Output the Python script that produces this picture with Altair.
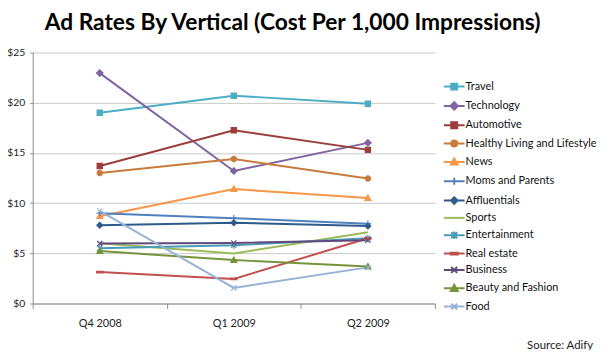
import altair as alt
import pandas as pd

quarters = ["Q4 2008", "Q1 2009", "Q2 2009"]
series = ["Travel", "Technology", "Automotive", "Healthy Living and Lifestyle", "News",
          "Moms and Parents", "Affluentials", "Sports", "Entertainment", "Real estate",
          "Business", "Beauty and Fashion", "Food"]
travel = [19.0, 20.7, 19.9]
technology = [22.95, 13.2, 16.0]
automotive = [13.7, 17.25, 15.3]
healthy = [13.0, 14.4, 12.45]
news = [8.7, 11.4, 10.5]
moms = [9.0, 8.5, 7.95]
affluentials = [7.8, 8.05, 7.72]
sports = [6.0, 4.98, 7.1]
entertainment = [5.5, 5.8, 6.5]
real_estate = [3.13, 2.45, 6.5]
business = [5.97, 6.03, 6.3]
beauty = [5.22, 4.33, 3.68]
food = [9.22, 1.56, 3.6]
values = [travel, technology, automotive, healthy, news, moms, affluentials, sports,
          entertainment, real_estate, business, beauty, food]

title_text = "Ad Rates By Vertical (Cost Per 1,000 Impressions)"
source_text = "Source: Adify"

colors = ["#4BACC6", "#8064A2", "#9B3D3A", "#C97B3B", "#F79646", "#4F81BD", "#2F5B8C",
          "#9BBB59", "#4A9BB5", "#C0504D", "#604A7B", "#77933C", "#95B3D7"]
shapes = [
    "M-1,-1H1V1H-1Z",
    "M0,-1.25L1.25,0L0,1.25L-1.25,0Z",
    "M-1,-1H1V1H-1Z",
    "M1,0A1,1,0,1,1,-1,0A1,1,0,1,1,1,0Z",
    "M0,-1.15L1.15,0.9H-1.15Z",
    "M-1.2,0H1.2M0,-1.2V1.2",
    "M0,-1.1L1.1,0L0,1.1L-1.1,0Z",
    "M0,0",
    "M-1,-1L1,1M-1,1L1,-1M0,-1.3V1.3",
    "M-1.2,-0.3H1.2V0.3H-1.2Z",
    "M-1,-1L1,1M-1,1L1,-1",
    "M0,-1.15L1.15,0.9H-1.15Z",
    "M-1,-1L1,1M-1,1L1,-1",
]
legend_shapes = [s + "M-3.5,0H3.5" for s in shapes]

rows = []
for s, vals in zip(series, values):
    for qi, (q, v) in enumerate(zip(quarters, vals)):
        rows.append({"series": s, "quarter": q, "qi": qi, "value": v})
df = pd.DataFrame(rows)

font = "Lato"
xenc = alt.X("quarter:N", sort=quarters, title=None,
             scale=alt.Scale(type="band", paddingInner=0, paddingOuter=0),
             axis=alt.Axis(tickBand="extent", labelAngle=0, tickSize=5, labelPadding=9,
                           domainColor="#8C8C8C", tickColor="#8C8C8C", labelFontSize=11,
                           labelColor="#222222", labelFont=font))
yenc = alt.Y("value:Q", title=None,
             scale=alt.Scale(domain=[0, 25], nice=False),
             axis=alt.Axis(values=[0, 5, 10, 15, 20, 25], format="$d", grid=True,
                           gridColor="#C8C8C8", domainColor="#8C8C8C", tickColor="#8C8C8C",
                           tickSize=3, labelPadding=5, labelFontSize=10.5,
                           labelColor="#222222", labelFont=font))

color_scale = alt.Scale(domain=series, range=colors)
shape_scale = alt.Scale(domain=series, range=shapes)
legend_shape_scale = alt.Scale(domain=series, range=legend_shapes)

legend = alt.Legend(
    title=None, orient="none", legendX=421, legendY=29, padding=0,
    symbolSize=36, symbolStrokeWidth=2, labelOffset=6, labelFontSize=11, labelFont=font,
    labelColor="#111111", rowPadding=3.55, labelLimit=300, symbolOpacity=1,
)

lines = alt.Chart(df).mark_line(strokeWidth=2).encode(
    x=xenc, y=yenc,
    color=alt.Color("series:N", scale=color_scale, sort=series, legend=None),
    order=alt.Order("qi:Q"),
)
points = alt.Chart(df).mark_point(filled=True, size=28, strokeWidth=1.2, opacity=1).encode(
    x=xenc, y=yenc,
    color=alt.Color("series:N", scale=color_scale, sort=series, legend=None),
    shape=alt.Shape("series:N", scale=shape_scale, sort=series, legend=None),
    stroke=alt.Stroke("series:N", scale=color_scale, sort=series, legend=None),
)
legend_layer = alt.Chart(df).transform_filter("false").mark_point(
    filled=True, opacity=1, strokeWidth=2
).encode(
    x=xenc, y=yenc,
    color=alt.Color("series:N", scale=color_scale, sort=series, legend=legend),
    shape=alt.Shape("series:N", scale=legend_shape_scale, sort=series, legend=legend),
    stroke=alt.Stroke("series:N", scale=color_scale, sort=series, legend=legend),
)
source = alt.Chart(alt.Data(values=[{"t": source_text}])).mark_text(
    align="right", baseline="middle", fontSize=11.5, font=font, color="#222222"
).encode(text="t:N", x=alt.value(567), y=alt.value(297))
title = alt.Chart(alt.Data(values=[{"t": title_text}])).mark_text(
    align="center", baseline="alphabetic", fontSize=23, font=font, fontWeight="bold",
    color="#000000"
).encode(text="t:N", x=alt.value(263), y=alt.value(-23))

chart = alt.layer(lines, points, legend_layer, source, title).resolve_scale(
    color="independent", shape="independent", stroke="independent"
).properties(
    width=407, height=254,
    autosize=alt.AutoSizeParams(type="none"),
    padding={"left": 25, "top": 43, "right": 166, "bottom": 45},
).configure_view(strokeWidth=0)

chart.save("out.html", embed_options={"renderer": "svg", "actions": False})
